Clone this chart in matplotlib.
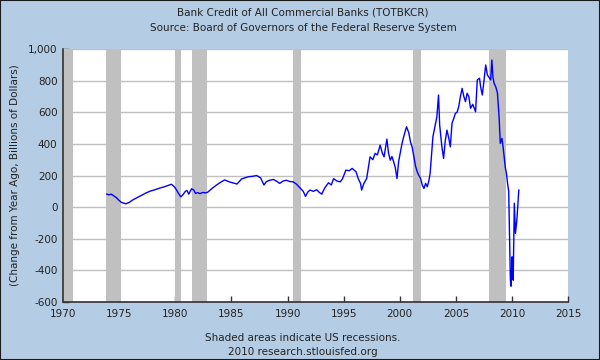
import matplotlib
matplotlib.use("Agg")
import matplotlib.pyplot as plt
from matplotlib.patches import Rectangle

years = [1973.9, 1974.1, 1974.3, 1974.5, 1974.75, 1975.0, 1975.2, 1975.6, 1975.9, 1976.2,
         1976.6, 1977.0, 1977.4, 1977.8, 1978.2, 1978.6, 1979.0, 1979.4, 1979.65, 1979.9,
         1980.1, 1980.3, 1980.5, 1980.7, 1980.9, 1981.05, 1981.2, 1981.45, 1981.65, 1981.8,
         1982.0, 1982.2, 1982.45, 1982.7, 1982.9, 1983.3, 1983.8, 1984.1, 1984.4, 1984.8,
         1985.1, 1985.5, 1985.9, 1986.2, 1986.5, 1986.9, 1987.25, 1987.6, 1987.9, 1988.1,
         1988.4, 1988.75, 1989.0, 1989.3, 1989.6, 1989.9, 1990.2, 1990.5, 1990.8, 1991.0,
         1991.25, 1991.4, 1991.6, 1991.8, 1992.0, 1992.3, 1992.6, 1992.8, 1993.05, 1993.3,
         1993.65, 1993.9, 1994.1, 1994.4, 1994.7, 1994.9, 1995.2, 1995.5, 1995.75, 1996.1,
         1996.3, 1996.5, 1996.6, 1996.8, 1997.05, 1997.35, 1997.6, 1997.8, 1998.0, 1998.25,
         1998.45, 1998.6, 1998.85, 1999.0, 1999.15, 1999.3, 1999.45, 1999.6, 1999.75, 1999.9,
         2000.2, 2000.4, 2000.6, 2000.8, 2000.95, 2001.1, 2001.25, 2001.4, 2001.55, 2001.7,
         2001.85, 2002.0, 2002.15, 2002.3, 2002.45, 2002.6, 2002.7, 2002.85, 2002.95, 2003.1,
         2003.3, 2003.45, 2003.55, 2003.75, 2003.9, 2004.05, 2004.2, 2004.35, 2004.5, 2004.65,
         2004.8, 2004.95, 2005.1, 2005.25, 2005.4, 2005.55, 2005.7, 2005.85, 2006.0, 2006.15,
         2006.3, 2006.5, 2006.75, 2006.9, 2007.1, 2007.2, 2007.35, 2007.5, 2007.65, 2007.8,
         2007.95, 2008.1, 2008.2, 2008.3, 2008.4, 2008.55, 2008.7, 2008.8, 2008.85, 2008.95,
         2009.1, 2009.2, 2009.3, 2009.4, 2009.5, 2009.6, 2009.7, 2009.75, 2009.8, 2009.85,
         2009.9, 2009.95, 2010.0, 2010.05, 2010.1, 2010.15, 2010.2, 2010.3, 2010.4, 2010.45,
         2010.55, 2010.6]
values = [82, 78, 82, 72, 60, 42, 30, 21, 30, 45,
          60, 75, 90, 102, 110, 120, 128, 138, 145, 130,
          110, 85, 65, 80, 100, 105, 82, 116, 108, 87,
          92, 85, 93, 90, 95, 120, 146, 160, 172, 160,
          154, 146, 178, 185, 192, 195, 200, 185, 140, 160,
          170, 175, 165, 150, 165, 170, 162, 160, 145, 130,
          112, 100, 68, 95, 108, 100, 110, 95, 82, 120,
          154, 140, 180, 165, 160, 180, 234, 230, 245, 224,
          180, 150, 108, 150, 181, 318, 300, 340, 330, 392,
          340, 318, 430, 340, 297, 320, 287, 250, 181, 290,
          403, 460, 508, 470, 413, 380, 318, 260, 224, 200,
          181, 140, 118, 150, 129, 170, 213, 350, 445, 500,
          571, 709, 520, 381, 308, 420, 487, 440, 381, 530,
          560, 593, 600, 635, 700, 751, 700, 667, 720, 698,
          625, 650, 603, 804, 815, 760, 709, 800, 899, 836,
          820, 804, 930, 820, 783, 760, 720, 620, 562, 403,
          435, 380, 318, 250, 213, 150, 100, -100, -293, -462,
          -500, -420, -314, -400, -462, -200, 25, -166, -100, -59,
          60, 108]

recessions = [(1969.92, 1970.87), (1973.87, 1975.2), (1980.0, 1980.53),
              (1981.53, 1982.87), (1990.53, 1991.2), (2001.2, 2001.87),
              (2007.92, 2009.45)]

x_ticks = [1970, 1975, 1980, 1985, 1990, 1995, 2000, 2005, 2010, 2015]
y_ticks = [-600, -400, -200, 0, 200, 400, 600, 800, 1000]
y_tick_labels = ["-600", "-400", "-200", "0", "200", "400", "600", "800", "1,000"]

bg = "#b4cde5"
fig = plt.figure(figsize=(6, 3.6), dpi=100, facecolor=bg)
fig.patches.append(Rectangle((0, 0), 1, 1, transform=fig.transFigure,
                             fill=False, edgecolor="#1a1a1a", linewidth=1.5))
ax = fig.add_axes([0.105, 0.161, 0.842, 0.703])
ax.set_facecolor("white")

for s, e in recessions:
    ax.axvspan(s, e, color="#c0c0c0", lw=0, zorder=1)

ax.set_yticks(y_ticks)
ax.set_yticklabels(y_tick_labels)
ax.set_xticks(x_ticks)
ax.grid(axis="y", color="#c0c0c0", linewidth=1, zorder=0.5)
ax.set_axisbelow(True)

ax.plot(years, values, color="#0000ff", linewidth=1.0, zorder=3)

ax.set_xlim(1970, 2015)
ax.set_ylim(-600, 1000)

for sp in ["top", "right"]:
    ax.spines[sp].set_visible(False)
for sp in ["left", "bottom"]:
    ax.spines[sp].set_color("#333333")
    ax.spines[sp].set_linewidth(1.2)
    ax.spines[sp].set_zorder(4)

ax.tick_params(axis="both", direction="in", length=4, width=1, color="#333333",
               labelsize=7.5, labelcolor="#222222")
ax.tick_params(axis="y", pad=4)
ax.tick_params(axis="x", pad=5)

ax.set_ylabel("(Change from Year Ago, Billions of Dollars)", fontsize=7.5,
              color="#222222", labelpad=6)

fig.text(0.505, 0.965, "Bank Credit of All Commercial Banks (TOTBKCR)", ha="center",
         va="center", fontsize=7.5, color="#222222")
fig.text(0.505, 0.923, "Source: Board of Governors of the Federal Reserve System",
         ha="center", va="center", fontsize=7.5, color="#222222")
fig.text(0.505, 0.062, "Shaded areas indicate US recessions.", ha="center",
         va="center", fontsize=7.5, color="#222222")
fig.text(0.505, 0.021, "2010 research.stlouisfed.org", ha="center",
         va="center", fontsize=7.5, color="#222222")

fig.savefig("out.png", dpi=100, facecolor=bg)
